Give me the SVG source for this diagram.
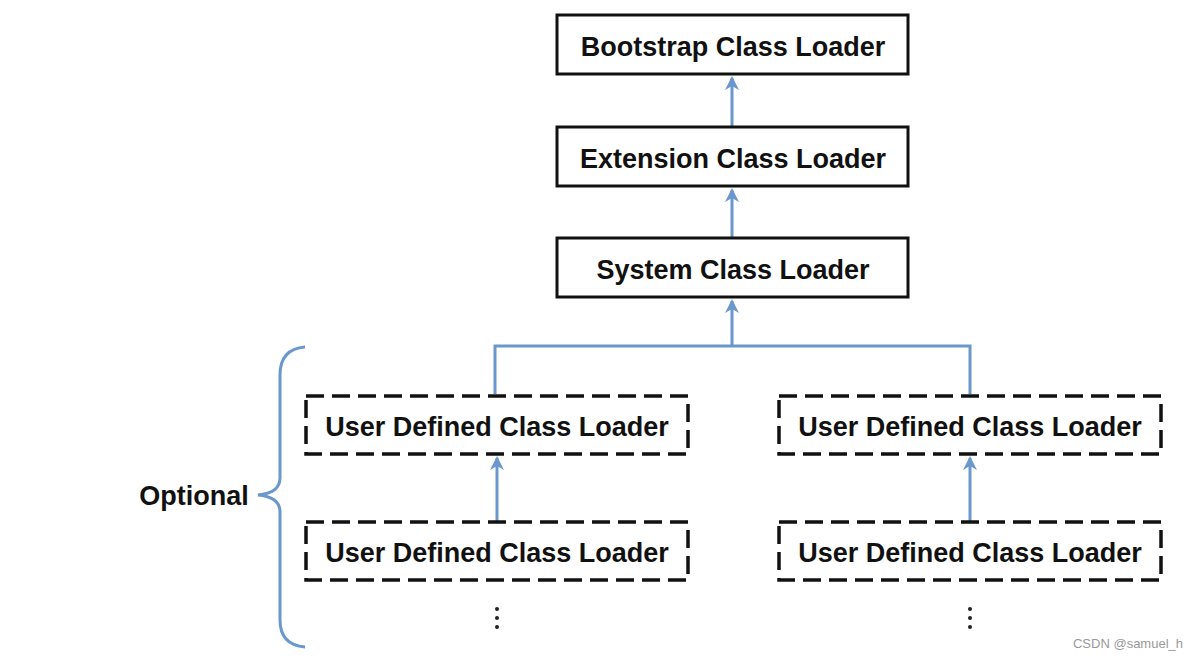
<svg xmlns="http://www.w3.org/2000/svg" width="1197" height="659" viewBox="0 0 1197 659">
<style>
.box{fill:#fff;stroke:#111;stroke-width:3}
.dbox{fill:none;stroke:#111;stroke-width:3.5;stroke-dasharray:18 8}
.t{font-family:"Liberation Sans",Arial,sans-serif;font-weight:bold;font-size:27px;fill:#111;text-anchor:middle}
.c{fill:none;stroke:#6b98cc;stroke-width:3}
</style>
<defs>
<marker id="ah2" viewBox="0 0 14 16" markerWidth="14" markerHeight="16" refX="12" refY="8" orient="auto" markerUnits="userSpaceOnUse">
<path d="M0,1 L14,8 L0,15 L4,8 Z" fill="#6b98cc"/>
</marker>
</defs>
<rect width="1197" height="659" fill="#fff"/>
<g id="connectors">
<line class="c" x1="732" y1="126" x2="732" y2="78" marker-end="url(#ah2)"/>
<line class="c" x1="732" y1="237" x2="732" y2="190" marker-end="url(#ah2)"/>
<polyline class="c" points="495,394 495,346 970,346 970,394"/>
<line class="c" x1="732" y1="346" x2="732" y2="301" marker-end="url(#ah2)"/>
<line class="c" x1="497" y1="521" x2="497" y2="458" marker-end="url(#ah2)"/>
<line class="c" x1="970" y1="521" x2="970" y2="458" marker-end="url(#ah2)"/>
<path class="c" d="M305,347 Q280,349 280,375 L280,478 Q280,493 258,495 Q280,497 280,512 L280,620 Q280,645 305,647"/>
</g>
<g id="bootstrap">
<rect class="box" x="557" y="15" width="351" height="59"/>
<text class="t" x="733" y="56">Bootstrap Class Loader</text>
</g>
<g id="extension">
<rect class="box" x="557" y="127" width="351" height="59"/>
<text class="t" x="733" y="168">Extension Class Loader</text>
</g>
<g id="system">
<rect class="box" x="557" y="238" width="351" height="59"/>
<text class="t" x="733" y="279">System Class Loader</text>
</g>
<g id="user-left-1">
<rect class="dbox" x="306" y="396" width="382" height="58"/>
<text class="t" x="497" y="436">User Defined Class Loader</text>
</g>
<g id="user-left-2">
<rect class="dbox" x="306" y="522" width="382" height="58"/>
<text class="t" x="497" y="562">User Defined Class Loader</text>
</g>
<g id="user-right-1">
<rect class="dbox" x="779" y="396" width="382" height="58"/>
<text class="t" x="970" y="436">User Defined Class Loader</text>
</g>
<g id="user-right-2">
<rect class="dbox" x="779" y="522" width="382" height="58"/>
<text class="t" x="970" y="562">User Defined Class Loader</text>
</g>
<g id="dots-left" fill="#222">
<circle cx="497" cy="609" r="2"/><circle cx="497" cy="618" r="2"/><circle cx="497" cy="627" r="2"/>
</g>
<g id="dots-right" fill="#222">
<circle cx="970" cy="609" r="2"/><circle cx="970" cy="618" r="2"/><circle cx="970" cy="627" r="2"/>
</g>
<g id="optional">
<text class="t" x="194" y="505">Optional</text>
</g>
<text x="1183" y="648" font-family="Liberation Sans,Arial,sans-serif" font-size="13" fill="#999" text-anchor="end">CSDN @samuel_h</text>
</svg>
